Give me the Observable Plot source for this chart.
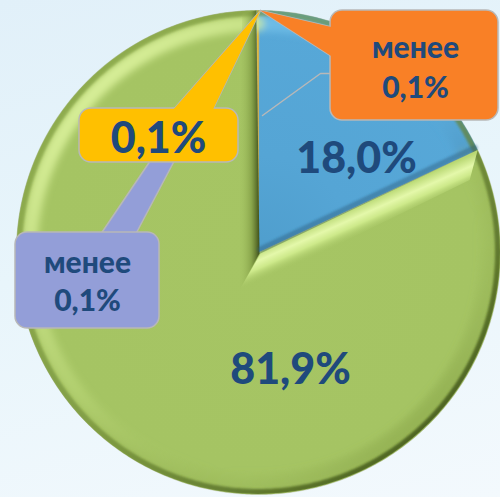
<!DOCTYPE html>
<html>
<head>
<meta charset="utf-8">
<script src="https://cdn.jsdelivr.net/npm/d3@7"></script>
<script src="https://cdn.jsdelivr.net/npm/@observablehq/plot@0.6"></script>
<style>
  html, body { margin: 0; padding: 0; width: 500px; height: 497px; overflow: hidden; }
  body { background: linear-gradient(165deg, #e1f0f9 0%, #e8f5fb 45%, #f3f9fd 100%); }
  #chart svg { display: block; }
</style>
</head>
<body>
<div id="chart"></div>
<script>
// ---- data ----
const categories = ["orange", "blue", "green", "purple", "yellow"];
const values = [0.05, 18.0, 81.9, 0.05, 0.1];
const labels = ["менее\n0,1%", "18,0%", "81,9%", "менее\n0,1%", "0,1%"];
const colors = ["#F98026", "#55A5D5", "#A5C463", "#939ED8", "#FFC000"];

// ---- layout ----
const W = 500, H = 497;
const cx = 258, cy = 252, R = 242;

const arcs = d3.pie().sort(null).value(d => d)(values);
const gradFill = { blue: "url(#gBlue)", green: "url(#gGreen)" };
const rimFill = { blue: "url(#gRimInBlue)", green: "url(#gRimIn)" };
const polar = (r, t) => ({ x: cx + r * Math.sin(t), y: cy - r * Math.cos(t) });

const slicePts = [];
arcs.forEach((a, i) => {
  const key = categories[i];
  const fill = gradFill[key] || colors[i];
  slicePts.push({ key, fill, x: cx, y: cy });
  const n = Math.max(2, Math.ceil((a.endAngle - a.startAngle) / 0.01));
  for (let k = 0; k <= n; k++) {
    const t = a.startAngle + (a.endAngle - a.startAngle) * k / n;
    slicePts.push({ key, fill, ...polar(R, t) });
  }
  slicePts.push({ key, fill, x: cx, y: cy });
});

// rim decoration over the blue and green arcs
const rimIn = [], rimOut = [];
[1, 2].forEach(i => {
  const key = categories[i];
  const a0 = arcs[i].startAngle, a1 = arcs[i].endAngle;
  const n = Math.ceil((a1 - a0) / 0.01);
  for (let k = 0; k <= n; k++) {
    const t = a0 + (a1 - a0) * k / n;
    rimIn.push({ key, s: rimFill[key], ...polar(R - 13, t) });
  }
});
{
  const a0 = arcs[1].startAngle, a1 = arcs[2].endAngle;
  const n = Math.ceil((a1 - a0) / 0.01);
  for (let k = 0; k <= n; k++) rimOut.push(polar(R - 2.5, a0 + (a1 - a0) * k / n));
}

// bevel band between blue and green
const aBG = arcs[1].endAngle;
const pBG = polar(R, aBG);
const bevel = [
  { x: pBG.x, y: pBG.y }, { x: cx + 2, y: cy + 1 }, { x: cx - 21, y: cy + 41 },
  { x: pBG.x - 8, y: pBG.y + 30 }, { x: pBG.x, y: pBG.y }
];
// dark shade left of the vertical edge
const pEnd = polar(R, arcs[2].endAngle);
const shade = [
  { x: pEnd.x - 14, y: pEnd.y + 3 }, { x: pEnd.x, y: pEnd.y }, { x: cx + 1, y: cy + 1 },
  { x: cx - 21, y: cy + 41 }, { x: pEnd.x - 14, y: pEnd.y + 3 }
];
// blue shadow along its lower edge
const blueEdge = [
  { x: pBG.x - 3, y: pBG.y + 1 }, { x: cx + 2, y: cy }
];

// callout boxes
const boxes = [
  { key: "orange", x1: 330, x2: 498, y1: 10, y2: 120, fill: colors[0] },
  { key: "purple", x1: 15, x2: 159, y1: 232, y2: 328, fill: colors[3] },
  { key: "yellow", x1: 79, x2: 238, y1: 108, y2: 162, fill: colors[4] }
];
const apex = { x: 260, y: 10 };
const ptrOrange = [apex, { x: 333, y: 27 }, { x: 333, y: 57 }, apex];
const ptrYellow = [apex, { x: 172, y: 110 }, { x: 212, y: 110 }, apex];
const ptrPurple = [{ x: 150, y: 160 }, { x: 100, y: 234 }, { x: 135, y: 234 }, { x: 174, y: 160 }, { x: 150, y: 160 }];
const leader = [{ x: 262, y: 115 }, { x: 320, y: 73 }, { x: 332, y: 73 }];

const texts = [
  { t: "менее", x: 415, y: 57, s: 30 },
  { t: "0,1%", x: 415, y: 97, s: 30 },
  { t: "менее", x: 87, y: 272, s: 30 },
  { t: "0,1%", x: 87, y: 310, s: 30 },
  { t: labels[4], x: 158, y: 152, s: 43 },
  { t: labels[1], x: 356, y: 172, s: 43 },
  { t: labels[2], x: 290, y: 383, s: 43 }
];

const txtColor = "#1F4A7C";
const grey = "#b8b8b8";

const textMarks = [30, 43].map(s => Plot.text(texts.filter(d => d.s === s), {
  x: "x", y: "y", text: "t", fontSize: s, fontWeight: 900, fill: txtColor,
  lineAnchor: "bottom", textAnchor: "middle", fontFamily: "Lato"
}));

const plot = Plot.plot({
  width: W, height: H, margin: 0,
  x: { domain: [0, W], range: [0, W], axis: null },
  y: { domain: [0, H], range: [0, H], axis: null },
  color: { type: "identity" },
  style: { background: "transparent", fontFamily: "Lato" },
  marks: [
    Plot.line(slicePts, { x: "x", y: "y", z: "key", fill: "fill", stroke: "#9aa080", strokeWidth: 0.6, strokeOpacity: 0.5 }),
    Plot.line(rimIn, { x: "x", y: "y", z: "key", stroke: "s", strokeWidth: 16 }),
    Plot.line(rimOut, { x: "x", y: "y", stroke: "url(#gRimOut)", strokeWidth: 6 }),
    Plot.line(shade, { x: "x", y: "y", fill: "url(#gShade)", stroke: "none" }),
    Plot.line(blueEdge, { x: "x", y: "y", stroke: "#2f5f80", strokeWidth: 6, strokeOpacity: 0.45, dy: -3 }),
    Plot.line(bevel, { x: "x", y: "y", fill: "url(#gBevel)", stroke: "none" }),
    Plot.line(leader, { x: "x", y: "y", stroke: grey, strokeWidth: 1.5 }),
    // pointers (with outline)
    Plot.line(ptrOrange, { x: "x", y: "y", fill: colors[0], stroke: grey, strokeWidth: 1.5 }),
    Plot.line(ptrPurple, { x: "x", y: "y", fill: colors[3], stroke: grey, strokeWidth: 1.5 }),
    Plot.line(ptrYellow, { x: "x", y: "y", fill: colors[4], stroke: grey, strokeWidth: 1.5 }),
    // boxes
    Plot.rect(boxes, { x1: "x1", x2: "x2", y1: "y1", y2: "y2", fill: "fill", stroke: grey, strokeWidth: 1.5, rx: 12 }),
    // pointer fills over box borders
    Plot.line(ptrOrange, { x: "x", y: "y", fill: colors[0], stroke: "none" }),
    Plot.line(ptrYellow, { x: "x", y: "y", fill: colors[4], stroke: "none" }),
    ...textMarks
  ]
});

d3.select(plot).insert("defs", ":first-child").html(`
  <filter id="blur3" filterUnits="userSpaceOnUse" x="0" y="0" width="${W}" height="${H}"><feGaussianBlur stdDeviation="3.5"/></filter>
  <filter id="blur1" filterUnits="userSpaceOnUse" x="0" y="0" width="${W}" height="${H}"><feGaussianBlur stdDeviation="1.2"/></filter>
  <clipPath id="pieClip" clipPathUnits="userSpaceOnUse"><circle cx="${cx}" cy="${cy}" r="${R}"/></clipPath>
  <radialGradient id="gGreen" gradientUnits="userSpaceOnUse" cx="${cx}" cy="${cy}" r="${R}">
    <stop offset="0" stop-color="#A6C564"/>
    <stop offset="0.9" stop-color="#A5C463"/>
    <stop offset="1" stop-color="#9CBA5A"/>
  </radialGradient>
  <radialGradient id="gBlue" gradientUnits="userSpaceOnUse" cx="${cx}" cy="${cy}" r="${R}">
    <stop offset="0" stop-color="#4F9ECD"/>
    <stop offset="0.4" stop-color="#55A5D5"/>
    <stop offset="1" stop-color="#57A8D8"/>
  </radialGradient>
  <linearGradient id="gRimIn" gradientUnits="userSpaceOnUse" x1="${cx - R * 0.75}" y1="${cy - R * 0.75}" x2="${cx + R * 0.75}" y2="${cy + R * 0.75}">
    <stop offset="0" stop-color="#E2F8A4" stop-opacity="0.9"/>
    <stop offset="0.45" stop-color="#C9E586" stop-opacity="0.4"/>
    <stop offset="0.75" stop-color="#A5C463" stop-opacity="0"/>
    <stop offset="1" stop-color="#7E9A3F" stop-opacity="0.5"/>
  </linearGradient>
  <linearGradient id="gRimInBlue" gradientUnits="userSpaceOnUse" x1="${cx}" y1="${cy - R}" x2="${cx + R}" y2="${cy - R * 0.4}">
    <stop offset="0" stop-color="#7CC8EE" stop-opacity="0.7"/>
    <stop offset="0.7" stop-color="#5FB0DE" stop-opacity="0.3"/>
    <stop offset="1" stop-color="#3F7FA8" stop-opacity="0.6"/>
  </linearGradient>
  <linearGradient id="gRimOut" gradientUnits="userSpaceOnUse" x1="${cx - R * 0.75}" y1="${cy - R * 0.75}" x2="${cx + R * 0.75}" y2="${cy + R * 0.75}">
    <stop offset="0" stop-color="#7F9C3D" stop-opacity="0.6"/>
    <stop offset="0.5" stop-color="#6E8A35" stop-opacity="0.6"/>
    <stop offset="1" stop-color="#4B6120" stop-opacity="1"/>
  </linearGradient>
  <linearGradient id="gShade" gradientUnits="userSpaceOnUse" x1="${cx - 20}" y1="0" x2="${cx + 1}" y2="0">
    <stop offset="0" stop-color="#A5C463" stop-opacity="0"/>
    <stop offset="0.6" stop-color="#7F9A42" stop-opacity="0.7"/>
    <stop offset="1" stop-color="#3E4F18" stop-opacity="1"/>
  </linearGradient>
  <linearGradient id="gBevel" gradientUnits="userSpaceOnUse" x1="370" y1="199" x2="382" y2="226">
    <stop offset="0" stop-color="#B9D873"/>
    <stop offset="0.35" stop-color="#E4F8AA"/>
    <stop offset="0.6" stop-color="#CDE98A"/>
    <stop offset="1" stop-color="#A5C463" stop-opacity="0"/>
  </linearGradient>
`);
// apply soft blur to rim decorations (marks 1, 2 and 4 in order)
const lineGroups = plot.querySelectorAll(':scope > g[aria-label="line"]');
if (lineGroups.length >= 5) {
  const wrap = (g, filter) => {
    const outer = document.createElementNS("http://www.w3.org/2000/svg", "g");
    outer.setAttribute("clip-path", "url(#pieClip)");
    g.parentNode.insertBefore(outer, g);
    outer.appendChild(g);
    g.setAttribute("filter", filter);
  };
  wrap(lineGroups[1], "url(#blur3)");
  wrap(lineGroups[2], "url(#blur1)");
  lineGroups[4].setAttribute("filter", "url(#blur1)");
}

document.getElementById("chart").appendChild(plot);
</script>
</body>
</html>
